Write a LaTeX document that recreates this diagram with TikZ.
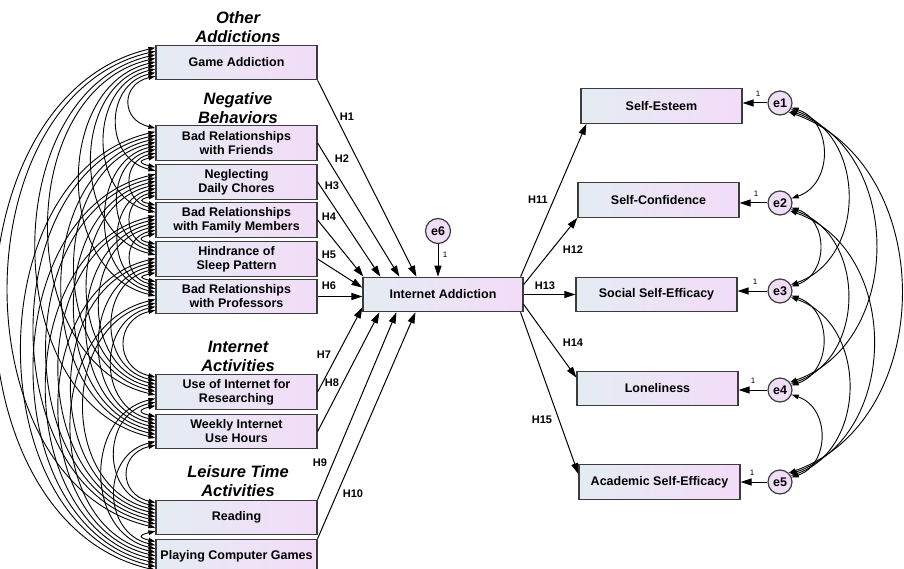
\documentclass[tikz,border=0pt]{standalone}
\usepackage{fontspec}
\setmainfont{Liberation Sans}
\usetikzlibrary{arrows.meta}
\definecolor{boxL}{RGB}{228,236,243}
\definecolor{boxR}{RGB}{243,220,248}
\definecolor{edgec}{RGB}{60,60,60}
\definecolor{circfill}{RGB}{240,222,247}
\begin{document}
\begin{tikzpicture}[x=1pt,y=-1pt,
  varbox/.style={draw=edgec, line width=1.2pt, left color=boxL, right color=boxR, minimum width=161pt, minimum height=34.5pt, inner sep=1pt, align=center, font=\fontsize{12.5}{14}\selectfont\bfseries},
  errc/.style={circle, draw=edgec, line width=1.2pt, fill=circfill, minimum size=24pt, inner sep=0pt, font=\fontsize{12.5}{14}\selectfont\bfseries},
  grouphead/.style={align=center, inner sep=0pt, font=\fontsize{16.5}{19.5}\selectfont\bfseries\itshape},
  hlab/.style={font=\fontsize{11}{12}\selectfont\bfseries, inner sep=0pt},
  onelab/.style={font=\fontsize{8}{9}\selectfont, inner sep=0pt},
  regarrow/.style={draw, line width=1pt, -{Triangle[length=11pt,width=7pt]}},
  covarrow/.style={draw, line width=0.9pt, {Triangle[length=7pt,width=4.5pt]}-{Triangle[length=7pt,width=4.5pt]}},
]
\useasboundingbox (0,0) rectangle (904,569);

% group headings
\node[grouphead] (g1) at (238,27) {Other\\Addictions};
\node[grouphead] (g2) at (238,108) {Negative\\Behaviors};
\node[grouphead] (g3) at (238,356.5) {Internet\\Activities};
\node[grouphead] (g4) at (238,481) {Leisure Time\\Activities};

% left variables
\node[varbox] (L1) at (236.5,62.5) {Game Addiction};
\node[varbox] (L2) at (236.5,143) {Bad Relationships\\with Friends};
\node[varbox] (L3) at (236.5,182) {Neglecting\\Daily Chores};
\node[varbox] (L4) at (236.5,220) {Bad Relationships\\with Family Members};
\node[varbox] (L5) at (236.5,259) {Hindrance of\\Sleep Pattern};
\node[varbox] (L6) at (236.5,296.5) {Bad Relationships\\with Professors};
\node[varbox] (L7) at (236.5,392) {Use of Internet for\\Researching};
\node[varbox] (L8) at (236.5,431.5) {Weekly Internet\\Use Hours};
\node[varbox] (L9) at (236.5,517.5) {Reading};
\node[varbox] (L10) at (236.5,556.5) {Playing Computer Games};

% center
\node[varbox, minimum width=160pt] (IA) at (443,294.5) {Internet Addiction};
\node[errc, minimum size=25pt] (E6) at (438,231) {e6};
\draw[regarrow] (E6) -- (E6 |- IA.north);
\node[onelab] (one6) at (445,255) {1};

% right variables
\node[varbox] (SE) at (661.5,106) {Self-Esteem};
\node[varbox] (SC) at (658.5,200) {Self-Confidence};
\node[varbox] (SSE) at (656.5,294.5) {Social Self-Efficacy};
\node[varbox] (LN) at (657.5,388.5) {Loneliness};
\node[varbox] (ASE) at (659.5,482) {Academic Self-Efficacy};

\node[errc] (E1) at (780,103) {e1};
\node[errc] (E2) at (780,203) {e2};
\node[errc] (E3) at (780,291) {e3};
\node[errc] (E4) at (780,390) {e4};
\node[errc] (E5) at (780,482) {e5};

\draw[regarrow] (E1) -- (E1 -| SE.east);
\draw[regarrow] (E2) -- (E2 -| SC.east);
\draw[regarrow] (E3) -- (E3 -| SSE.east);
\draw[regarrow] (E4) -- (E4 -| LN.east);
\draw[regarrow] (E5) -- (E5 -| ASE.east);
\node[onelab] (one1) at (758,94) {1};
\node[onelab] (one2) at (756,194) {1};
\node[onelab] (one3) at (755,282) {1};
\node[onelab] (one4) at (753,381) {1};
\node[onelab] (one5) at (752,473) {1};

% paths to Internet Addiction
\draw[regarrow] (L1.south east) -- ([xshift=54pt]IA.north west);
\draw[regarrow] (L2.east) -- ([xshift=37pt]IA.north west);
\draw[regarrow] (L3.east) -- ([xshift=18pt]IA.north west);
\draw[regarrow] (L4.east) -- ([xshift=1pt]IA.north west);
\draw[regarrow] (L5.east) -- ([yshift=-11pt]IA.north west);
\draw[regarrow] (L6.east) -- (L6.east -| IA.west);
\draw[regarrow] (L7.east) -- ([yshift=5pt]IA.south west);
\draw[regarrow] (L8.east) -- ([xshift=17pt]IA.south west);
\draw[regarrow] (L9.north east) -- ([xshift=34pt]IA.south west);
\draw[regarrow] (L10.north east) -- ([xshift=53pt]IA.south west);

% paths from Internet Addiction
\draw[regarrow] ([xshift=-3pt]IA.north east) -- ([xshift=6pt]SE.south west);
\draw[regarrow] ([yshift=-8pt]IA.north east) -- (SC.south west);
\draw[regarrow] (IA.east) -- (IA.east -| SSE.west);
\draw[regarrow] ([yshift=8pt]IA.south east) -- ([yshift=-7pt]LN.north west);
\draw[regarrow] ([xshift=-3pt]IA.south east) -- ([yshift=-10pt]ASE.north west);

% path labels
\node[hlab] (h1) at (347,117) {H1};
\node[hlab] (h2) at (342,159) {H2};
\node[hlab] (h3) at (332,186) {H3};
\node[hlab] (h4) at (329,217) {H4};
\node[hlab] (h5) at (329,255) {H5};
\node[hlab] (h6) at (329,286) {H6};
\node[hlab] (h7) at (324,355) {H7};
\node[hlab] (h8) at (332,383) {H8};
\node[hlab] (h9) at (320,463) {H9};
\node[hlab] (h10) at (353,494) {H10};
\node[hlab] (h11) at (538,200) {H11};
\node[hlab] (h12) at (573,250) {H12};
\node[hlab] (h13) at (545,286) {H13};
\node[hlab] (h14) at (573,343) {H14};
\node[hlab] (h15) at (542,420) {H15};

% covariances among left variables
\def\ylist{{62.5,143,182,220,259,296.5,392,431.5,517.5,556.5}}
\foreach \i in {1,...,9}{
  \pgfmathtruncatemacro\js{\i+1}
  \foreach \j in {\js,...,10}{
    \pgfmathsetmacro\dd{\ylist[\j-1]-\ylist[\i-1]}
    \pgfmathsetmacro\oi{3+((\i-1)+(10-\j))*3.56}
    \pgfmathsetmacro\oj{3+(\j-1-\i)*3.56}
    \pgfmathsetmacro\cx{-0.43*\dd}
    \pgfmathsetmacro\cy{0.1*\dd}
    \draw[covarrow] ([yshift=-\oi pt]L\i.north west) .. controls +(\cx,\cy) and +(\cx,-\cy) .. ([yshift=-\oj pt]L\j.north west);
  }
}

% covariances among right errors
\def\elist{{103,203,291,390,482}}
\foreach \i in {1,...,4}{
  \pgfmathtruncatemacro\js{\i+1}
  \foreach \j in {\js,...,5}{
    \pgfmathsetmacro\dd{\elist[\j-1]-\elist[\i-1]}
    \pgfmathsetmacro\bb{12+0.29*\dd}
    \pgfmathsetmacro\cx{(8*\bb-78.4)/6}
    \pgfmathsetmacro\cy{0.14*\dd}
    \pgfmathtruncatemacro\ai{-22-8*(\j-\i-1)}
    \pgfmathtruncatemacro\aj{22+8*(\j-\i-1)}
    \draw[covarrow] (E\i.\ai) .. controls +(\cx,\cy) and +(\cx,-\cy) .. (E\j.\aj);
  }
}
\end{tikzpicture}
\end{document}
